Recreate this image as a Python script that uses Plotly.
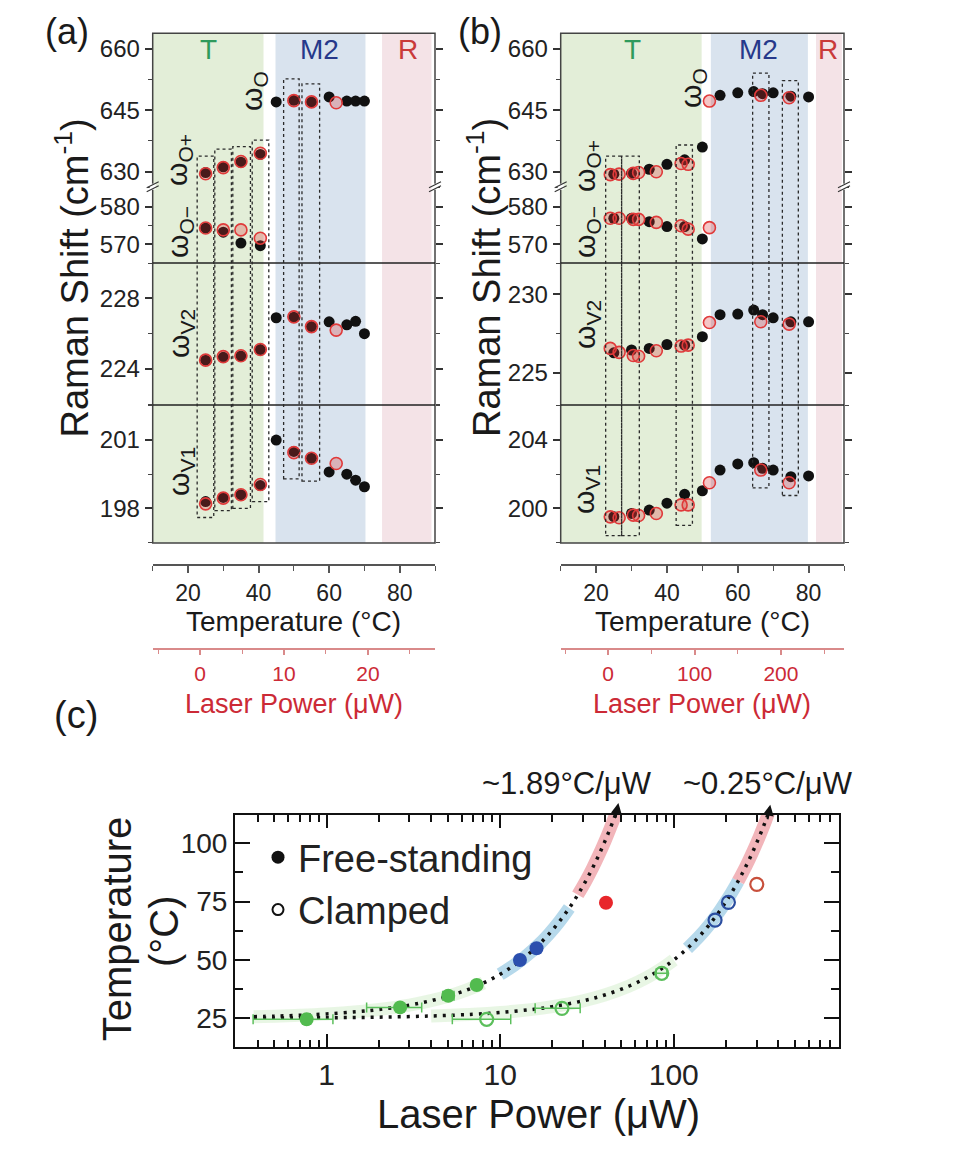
import math
import plotly.graph_objects as go

W, H = 961, 1156
def X(px): return px / W
def Y(py): return 1 - py / H
FONT = "Liberation Sans, Arial, Helvetica, sans-serif"

# ====================== DATA : panel (a) ======================
a_T_black      = [25, 30, 35, 40.5, 45, 50, 55, 60, 65, 67.5, 70]
a_Oplus_black  = [629.8, 631.2, 632.3, 634.2, None, None, None, None, None, None, None]
a_Ominus_black = [574.3, 573.2, 570.3, 569.6, None, None, None, None, None, None, None]
a_O_black      = [None, None, None, None, 647.0, 647.4, 647.0, 648.2, 647.2, 647.2, 647.2]
a_V2_black     = [224.5, 224.66, 224.73, 225.1, 226.9, 226.93, 226.4, 226.67, 226.5, 226.7, 226.0]
a_V1_black     = [198.3, 198.48, 198.6, 199.0, 201.0, 200.5, 200.2, 199.6, 199.5, 199.24, 198.95]

a_T_red      = [25, 30, 35, 40.5, 50, 55, 62]
a_Oplus_red  = [629.5, 631.0, 632.5, 634.5, None, None, None]
a_Ominus_red = [574.3, 573.8, 573.8, 571.6, None, None, None]
a_O_red      = [None, None, None, None, 647.3, 647.0, 646.8]
a_V2_red     = [224.5, 224.7, 224.75, 225.1, 226.95, 226.4, 226.2]
a_V1_red     = [198.2, 198.45, 198.6, 199.05, 200.45, 200.2, 199.97]

a_box_T0     = [22.6, 27.6, 32.7, 38.2, 47.1, 52.3]
a_box_T1     = [27.3, 32.3, 37.7, 42.9, 51.5, 57.3]
a_box_top    = [633.8, 635.5, 636.1, 637.7, 652.6, 651.4]
a_box_bottom = [197.6, 197.9, 198.0, 198.3, 199.3, 199.2]

a_phase_T0 = [10, 44.8, 75]
a_phase_T1 = [41.4, 70.3, 89]

# ====================== DATA : panel (b) ======================
b_T_black      = [25, 30, 35, 40, 45, 50, 55, 60, 64.5, 67, 70, 75, 80]
b_Oplus_black  = [629.4, 629.6, 630.6, 631.8, 632.9, 636.0, None, None, None, None, None, None, None]
b_Ominus_black = [576.9, 576.9, 576.0, 574.7, 574.7, 571.4, None, None, None, None, None, None, None]
b_O_black      = [None, None, None, None, None, None, 648.6, 649.2, 649.5, 649.0, 649.2, 648.4, 648.2]
b_V2_black     = [226.27, 226.45, 226.55, 226.8, 226.76, 227.3, 228.7, 228.74, 229.0, 228.7, 228.5, 228.25, 228.25]
b_V1_black     = [199.51, 199.7, 199.9, 200.3, 200.82, 201.03, 202.24, 202.6, 202.67, 202.34, 202.24, 201.85, 201.9]

b_T_red      = [24, 26.5, 30.5, 32, 37, 44, 46, 52, 66.5, 74.5]
b_Oplus_red  = [629.3, 629.4, 629.6, 629.8, 630.0, 632.0, 631.8, None, None, None]
b_Ominus_red = [576.9, 576.9, 576.6, 576.6, 575.8, 574.9, 574.0, 574.4, None, None]
b_O_red      = [None, None, None, None, None, None, None, 647.2, 648.6, 648.0]
b_V2_red     = [226.55, 226.3, 226.1, 226.05, 226.4, 226.7, 226.76, 228.2, 228.25, 228.1]
b_V1_red     = [199.5, 199.45, 199.6, 199.58, 199.7, 200.2, 200.2, 201.5, 202.24, 201.5]

b_box_T0     = [22.7, 27.2, 42.6, 64.2, 72.6]
b_box_T1     = [27.2, 32.2, 47.2, 68.8, 77.1]
b_box_top    = [633.8, 633.8, 636.5, 654.0, 652.2]
b_box_bottom = [198.4, 198.4, 199.0, 201.2, 200.75]

b_phase_T0 = [10, 52.4, 82.1]
b_phase_T1 = [49.8, 79.8, 89.4]

phase_names = ["T", "M2", "R"]

# ====================== DATA : panel (c) ======================
c_free_P       = [0.767, 2.65, 5.02, 7.32, 13.0, 16.2, 40.7]
c_free_T       = [24.6, 29.7, 34.7, 39.3, 50.0, 55.0, 74.5]
c_free_phase   = ["T", "T", "T", "T", "M2", "M2", "R"]
c_free_errm    = [0.39, 0.95, 0.35, 0.4, 0, 0, 0]
c_free_errp    = [0.32, 0.88, 0.4, 0.4, 0, 0, 0]

c_clamp_P      = [8.36, 22.7, 85.3, 173, 206.5, 301]
c_clamp_T      = [24.6, 29.3, 44.3, 67.1, 74.7, 82.4]
c_clamp_phase  = ["T", "T", "T", "M2", "M2", "R"]
c_clamp_errm   = [3.06, 6.8, 6.0, 0, 0, 0]
c_clamp_errp   = [3.14, 6.2, 6.0, 0, 0, 0]

# linear fits (~1.89 and ~0.25 degC/uW)
fit_free_P  = [0.38, 0.5, 0.7, 1.0, 1.5, 2.0, 3.0, 4.0, 5.0, 6.5, 8.0, 10.0, 12.0, 14.0, 16.5,
               19.0, 22.0, 25.0, 28.0, 31.0, 34.0, 37.0, 40.0, 43.0, 46.0, 48.0]
fit_free_T  = [25.72, 25.95, 26.32, 26.89, 27.84, 28.78, 30.67, 32.56, 34.45, 37.29, 40.12, 43.9,
               47.68, 51.46, 56.19, 60.91, 66.58, 72.25, 77.92, 83.59, 89.26, 94.93, 100.6,
               106.27, 111.94, 115.72]
fit_clamp_P = [0.38, 1, 2, 4, 7, 10, 15, 20, 30, 40, 55, 70, 85, 100, 120, 140, 160, 185, 210,
               235, 260, 285, 310, 335, 360]
fit_clamp_T = [25.1, 25.25, 25.5, 26.0, 26.75, 27.5, 28.75, 30.0, 32.5, 35.0, 38.75, 42.5, 46.25,
               50.0, 55.0, 60.0, 65.0, 71.25, 77.5, 83.75, 90.0, 96.25, 102.5, 108.75, 115.0]
free_band_P  = {"T": (0.38, 8.0), "M2": (10.0, 25.0), "R": (28.0, 48.0)}
clamp_band_P = {"T": (4.0, 100.0), "M2": (120.0, 235.0), "R": (235.0, 360.0)}
rate_labels = ["~1.89°C/μW", "~0.25°C/μW"]

# ====================== STYLE ======================
BAND_BG = {"T": "rgb(227,238,216)", "M2": "rgb(217,227,238)", "R": "rgb(244,227,231)"}
PHASE_TXT = {"T": "#2f9a5c", "M2": "#26388a", "R": "#c93a3a"}
C_FILL = {"T": "#52bb4f", "M2": "#2b4fae", "R": "#e8262b"}
C_OPEN = {"T": "#5cbf5c", "M2": "#2b4ea0", "R": "#c8503c"}
C_BAND = {"T": "rgba(150,215,130,0.22)", "M2": "rgba(110,180,215,0.50)", "R": "rgba(232,120,130,0.55)"}

BLACK_MK = dict(color="#111111", size=11)
RED_MK = dict(color="rgba(220,50,50,0.28)", size=12, line=dict(color="#e03a3a", width=1.6))

PANEL_TOP, BREAK_PX, DIV1, DIV2, PANEL_BOT = 33.3, 186.7, 263.0, 405.0, 543.0
O_UP_RANGE = [626.35, 663.7]
O_LO_RANGE = [565.0, 585.3]
T_RANGE = [10, 90]

fig = go.Figure()
layout = {}
shapes = []
annotations = []

def axkey(ref):
    return ref[0] + "axis" + ref[1:]

def to_paper(v, dom, rng):
    return dom[0] + (v - rng[0]) / (rng[1] - rng[0]) * (dom[1] - dom[0])

def ann(text, px, py, size, color="#1a1a1a", angle=0, **kw):
    annotations.append(dict(text=text, x=X(px), y=Y(py), xref="paper", yref="paper",
                            showarrow=False, textangle=angle, xanchor="center", yanchor="middle",
                            font=dict(size=size, color=color, family=FONT), **kw))

def pline(x0, y0, x1, y1, color="#333", width=1.5):
    shapes.append(dict(type="line", xref="paper", yref="paper", x0=X(x0), y0=Y(y0),
                       x1=X(x1), y1=Y(y1), line=dict(color=color, width=width)))

panels = [
    dict(tag="(a)", left=152.7, right=435.0, xref="x", yrefs=["y", "y2", "y3", "y4"],
         V2_range=[221.96, 230.0], V1_range=[196.48, 202.54],
         V2_tick=(224, 4, 2), V1_tick=(198, 3, 1.5),
         Tb=a_T_black, blk=[a_Oplus_black, a_O_black, a_Ominus_black, a_V2_black, a_V1_black],
         Tr=a_T_red, red=[a_Oplus_red, a_O_red, a_Ominus_red, a_V2_red, a_V1_red],
         box=(a_box_T0, a_box_T1, a_box_top, a_box_bottom),
         phase=(a_phase_T0, a_phase_T1),
         phase_lbl_x=[208, 319, 408],
         omega_pos=[(253, 91), (178, 160), (180, 232), (180, 334), (180, 472)],
         tag_pos=(67, 32), raman_x=72.5,
         temp_ax=("x3", "y9"), laser_ax=("x4", "y10"),
         laser_range=[-5.65, 28.0], laser_dtick=(10, 5)),
    dict(tag="(b)", left=560.7, right=844.0, xref="x2", yrefs=["y5", "y6", "y7", "y8"],
         V2_range=[222.94, 232.0], V1_range=[197.97, 206.05],
         V2_tick=(225, 5, 2.5), V1_tick=(200, 4, 2),
         Tb=b_T_black, blk=[b_Oplus_black, b_O_black, b_Ominus_black, b_V2_black, b_V1_black],
         Tr=b_T_red, red=[b_Oplus_red, b_O_red, b_Ominus_red, b_V2_red, b_V1_red],
         box=(b_box_T0, b_box_T1, b_box_top, b_box_bottom),
         phase=(b_phase_T0, b_phase_T1),
         phase_lbl_x=[632, 758, 828],
         omega_pos=[(692, 88), (587, 166), (587, 232), (586, 325), (586, 490)],
         tag_pos=(480, 31), raman_x=484,
         temp_ax=("x5", "y11"), laser_ax=("x6", "y12"),
         laser_range=[-55, 273], laser_dtick=(100, 50)),
]

omega_txt = ["ω<sub>O</sub>", "ω<sub>O+</sub>", "ω<sub>O−</sub>",
             "ω<sub>V2</sub>", "ω<sub>V1</sub>"]

for p in panels:
    xd = [X(p["left"]), X(p["right"])]
    yO_up, yO_lo, yV2, yV1 = p["yrefs"]
    doms = {yO_up: [Y(BREAK_PX), Y(PANEL_TOP)], yO_lo: [Y(DIV1), Y(BREAK_PX)],
            yV2: [Y(DIV2), Y(DIV1)], yV1: [Y(PANEL_BOT), Y(DIV2)]}
    rngs = {yO_up: O_UP_RANGE, yO_lo: O_LO_RANGE, yV2: p["V2_range"], yV1: p["V1_range"]}
    ticks = {yO_up: (630, 15, 7.5), yO_lo: (570, 10, 5), yV2: p["V2_tick"], yV1: p["V1_tick"]}

    layout[axkey(p["xref"])] = dict(domain=xd, range=T_RANGE, anchor=yV1, showgrid=False,
                                    zeroline=False, showline=False, showticklabels=False, ticks="")
    for yr in p["yrefs"]:
        t0, dt, mdt = ticks[yr]
        layout[axkey(yr)] = dict(domain=doms[yr], range=rngs[yr], anchor=p["xref"],
                                 showgrid=False, zeroline=False, showline=False,
                                 tickmode="linear", tick0=t0, dtick=dt,
                                 ticks="outside", ticklen=7, tickwidth=1.5, tickcolor="#333",
                                 mirror="ticks",
                                 minor=dict(ticks="outside", ticklen=4, tickwidth=1.2,
                                            tickcolor="#444", tick0=t0, dtick=mdt),
                                 tickfont=dict(size=24, color="#222", family=FONT))

    series_axes = [yO_up, yO_up, yO_lo, yV2, yV1]
    for vals, yr in zip(p["blk"], series_axes):
        fig.add_trace(go.Scatter(x=p["Tb"], y=vals, xaxis=p["xref"], yaxis=yr, mode="markers",
                                 marker=BLACK_MK, showlegend=False, hoverinfo="skip"))
    for vals, yr in zip(p["red"], series_axes):
        fig.add_trace(go.Scatter(x=p["Tr"], y=vals, xaxis=p["xref"], yaxis=yr, mode="markers",
                                 marker=RED_MK, showlegend=False, hoverinfo="skip"))

    # phase background bands
    for name, t0, t1 in zip(phase_names, p["phase"][0], p["phase"][1]):
        shapes.append(dict(type="rect", xref=p["xref"], yref="paper", x0=t0, x1=t1,
                           y0=Y(PANEL_BOT), y1=Y(PANEL_TOP), fillcolor=BAND_BG[name],
                           line=dict(width=0), layer="below"))
    for name, lx in zip(phase_names, p["phase_lbl_x"]):
        ann(name, lx, 50, 28, color=PHASE_TXT[name])

    # frame & dividers
    shapes.append(dict(type="rect", xref="paper", yref="paper", x0=xd[0], x1=xd[1],
                       y0=Y(PANEL_BOT), y1=Y(PANEL_TOP), line=dict(color="#444", width=1.5)))
    for dv in (DIV1, DIV2):
        pline(p["left"], dv, p["right"], dv, color="#222", width=1.3)
    # axis break marks
    for bx in (p["left"], p["right"]):
        shapes.append(dict(type="rect", xref="paper", yref="paper", x0=X(bx - 3), x1=X(bx + 3),
                           y0=Y(BREAK_PX + 3), y1=Y(BREAK_PX - 3), fillcolor="white",
                           line=dict(width=0)))
        pline(bx - 6, BREAK_PX + 5, bx + 6, BREAK_PX - 1, color="#333", width=1.2)
        pline(bx - 6, BREAK_PX + 1, bx + 6, BREAK_PX - 5, color="#333", width=1.2)

    # dotted boxes spanning from V1 to O sections
    for t0, t1, top, bot in zip(*p["box"]):
        shapes.append(dict(type="rect", xref=p["xref"], yref="paper", x0=t0, x1=t1,
                           y0=to_paper(bot, doms[yV1], rngs[yV1]),
                           y1=to_paper(top, doms[yO_up], rngs[yO_up]),
                           line=dict(color="#2a2a2a", width=1.3, dash="dot")))

    for txt, (ox, oy) in zip(omega_txt, p["omega_pos"]):
        ann(txt, ox, oy, 30, angle=-90)
    ann(p["tag"], p["tag_pos"][0], p["tag_pos"][1], 36)
    ann("Raman Shift (cm<sup>-1</sup>)", p["raman_x"], 278, 38, angle=-90)

    # separate temperature and laser-power axes below
    cx = (p["left"] + p["right"]) / 2
    tx, ty = p["temp_ax"]
    layout[axkey(tx)] = dict(domain=xd, range=T_RANGE, anchor=ty, side="bottom",
                             showline=True, linecolor="#555", linewidth=2, showgrid=False,
                             zeroline=False, tickmode="array", tickvals=[20, 40, 60, 80],
                             ticks="outside", ticklen=7, tickwidth=1.5, tickcolor="#555",
                             minor=dict(ticks="outside", ticklen=5, tickwidth=1.2,
                                        tickcolor="#555", tickvals=[10, 30, 50, 70, 90]),
                             tickfont=dict(size=23, color="#222", family=FONT))
    layout[axkey(ty)] = dict(domain=[Y(564), Y(564) + 0.01], range=[0, 1], visible=False,
                             anchor=tx)
    lx_, ly_ = p["laser_ax"]
    layout[axkey(lx_)] = dict(domain=xd, range=p["laser_range"], anchor=ly_, side="bottom",
                              showline=True, linecolor="#d98a8a", linewidth=2, showgrid=False,
                              zeroline=False, tickmode="linear", tick0=0, dtick=p["laser_dtick"][0],
                              ticks="outside", ticklen=5, tickwidth=1.5, tickcolor="#d98a8a",
                              minor=dict(ticks="outside", ticklen=4, tickwidth=1.2,
                                         tickcolor="#d98a8a", tick0=0, dtick=p["laser_dtick"][1]),
                              tickfont=dict(size=21, color="#cc2a36", family=FONT))
    layout[axkey(ly_)] = dict(domain=[Y(648.3), Y(648.3) + 0.01], range=[0, 1], visible=False,
                              anchor=lx_)
    for ax_pair in (p["temp_ax"], p["laser_ax"]):
        fig.add_trace(go.Scatter(x=[None], y=[None], xaxis=ax_pair[0], yaxis=ax_pair[1],
                                 showlegend=False, hoverinfo="skip"))
    ann("Temperature (°C)", cx, 621, 28)
    ann("Laser Power (μW)", cx, 704, 27, color="#cc2a36")

# ====================== panel (c) ======================
CX, CY = "x7", "y13"
C_XDOM = [X(235), X(839.3)]
C_YDOM = [Y(1047.3), Y(815)]
C_XRNG = [-0.528, 2.954]
C_YRNG = [12.6, 112.1]
layout[axkey(CX)] = dict(type="log", domain=C_XDOM, range=C_XRNG, anchor=CY,
                         showline=True, linecolor="#111", linewidth=2, mirror="ticks",
                         showgrid=False, zeroline=False, dtick=1,
                         ticks="inside", ticklen=13, tickwidth=1.8, tickcolor="#111",
                         minor=dict(ticks="inside", ticklen=7, tickwidth=1.5, tickcolor="#111",
                                    dtick="D1"),
                         tickfont=dict(size=30, color="#222", family=FONT))
layout[axkey(CY)] = dict(domain=C_YDOM, range=C_YRNG, anchor=CX,
                         showline=True, linecolor="#111", linewidth=2, mirror="ticks",
                         showgrid=False, zeroline=False, tickmode="linear", tick0=0, dtick=25,
                         ticks="inside", ticklen=15, tickwidth=1.8, tickcolor="#111",
                         minor=dict(ticks="inside", ticklen=8, tickwidth=1.5, tickcolor="#111",
                                    tick0=0, dtick=12.5),
                         tickfont=dict(size=28, color="#222", family=FONT))

def band_trace(P, T, lo, hi, color):
    xs = [pp for pp, tt in zip(P, T) if lo <= pp <= hi]
    ys = [tt for pp, tt in zip(P, T) if lo <= pp <= hi]
    return go.Scatter(x=xs, y=ys, xaxis=CX, yaxis=CY, mode="lines", line_shape="spline",
                      line=dict(color=color, width=13), showlegend=False, hoverinfo="skip")

for name in phase_names:
    lo, hi = free_band_P[name]
    fig.add_trace(band_trace(fit_free_P, fit_free_T, lo, hi, C_BAND[name]))
    lo, hi = clamp_band_P[name]
    fig.add_trace(band_trace(fit_clamp_P, fit_clamp_T, lo, hi, C_BAND[name]))

for P, T in ((fit_free_P, fit_free_T), (fit_clamp_P, fit_clamp_T)):
    fig.add_trace(go.Scatter(x=P, y=T, xaxis=CX, yaxis=CY, mode="lines", line_shape="spline",
                             line=dict(color="#111", width=3.5, dash="3px,6px"),
                             showlegend=False, hoverinfo="skip"))

for name in phase_names:
    idx = [i for i, ph in enumerate(c_free_phase) if ph == name]
    fig.add_trace(go.Scatter(
        x=[c_free_P[i] for i in idx], y=[c_free_T[i] for i in idx], xaxis=CX, yaxis=CY,
        mode="markers", marker=dict(color=C_FILL[name], size=14),
        error_x=dict(type="data", array=[c_free_errp[i] for i in idx],
                     arrayminus=[c_free_errm[i] for i in idx], color=C_OPEN["T"],
                     thickness=1.5, width=5, visible=(name == "T")),
        showlegend=False, hoverinfo="skip"))
    idx = [i for i, ph in enumerate(c_clamp_phase) if ph == name]
    fig.add_trace(go.Scatter(
        x=[c_clamp_P[i] for i in idx], y=[c_clamp_T[i] for i in idx], xaxis=CX, yaxis=CY,
        mode="markers", marker=dict(color="rgba(255,255,255,0)", size=13,
                                    line=dict(color=C_OPEN[name], width=2.2)),
        error_x=dict(type="data", array=[c_clamp_errp[i] for i in idx],
                     arrayminus=[c_clamp_errm[i] for i in idx], color=C_OPEN["T"],
                     thickness=1.5, width=5, visible=(name == "T")),
        showlegend=False, hoverinfo="skip"))

# legend entries
fig.add_trace(go.Scatter(x=[None], y=[None], xaxis=CX, yaxis=CY, mode="markers",
                         marker=dict(color="#111", size=13), name="Free-standing"))
fig.add_trace(go.Scatter(x=[None], y=[None], xaxis=CX, yaxis=CY, mode="markers",
                         marker=dict(color="white", size=11, line=dict(color="#111", width=2)),
                         name="Clamped"))

# arrows at the top end of each fit + slope labels
for P, T, lbl, lx in ((fit_free_P, fit_free_T, rate_labels[0], 567),
                      (fit_clamp_P, fit_clamp_T, rate_labels[1], 768)):
    hx = C_XDOM[0] + (math.log10(P[-1]) - C_XRNG[0]) / (C_XRNG[1] - C_XRNG[0]) * (C_XDOM[1] - C_XDOM[0])
    hy = to_paper(T[-1] + 1.5, C_YDOM, C_YRNG)
    annotations.append(dict(x=hx, y=hy, xref="paper", yref="paper",
                            ax=-3, ay=16, showarrow=True, arrowhead=2, arrowsize=1.1,
                            arrowwidth=2, arrowcolor="#111", text=""))
    ann(lbl, lx, 783, 31)

ann("(c)", 76, 715, 38)
ann("Temperature", 116.7, 928.5, 40, angle=-90)
ann("(°C)", 164, 931, 40, angle=-90)
ann("Laser Power (μW)", 538.6, 1114, 40)

fig.update_layout(
    width=W, height=H, margin=dict(l=0, r=0, t=0, b=0),
    paper_bgcolor="white", plot_bgcolor="rgba(0,0,0,0)",
    font=dict(family=FONT, color="#222"),
    showlegend=True,
    legend=dict(x=X(258), y=Y(826), xanchor="left", yanchor="top",
                font=dict(size=38, family=FONT, color="#222"),
                bgcolor="rgba(0,0,0,0)", tracegroupgap=0),
    shapes=shapes, annotations=annotations,
    **layout,
)

fig.write_html("out.html", config={"displayModeBar": False},
               post_script="document.body.style.margin='0px';")
